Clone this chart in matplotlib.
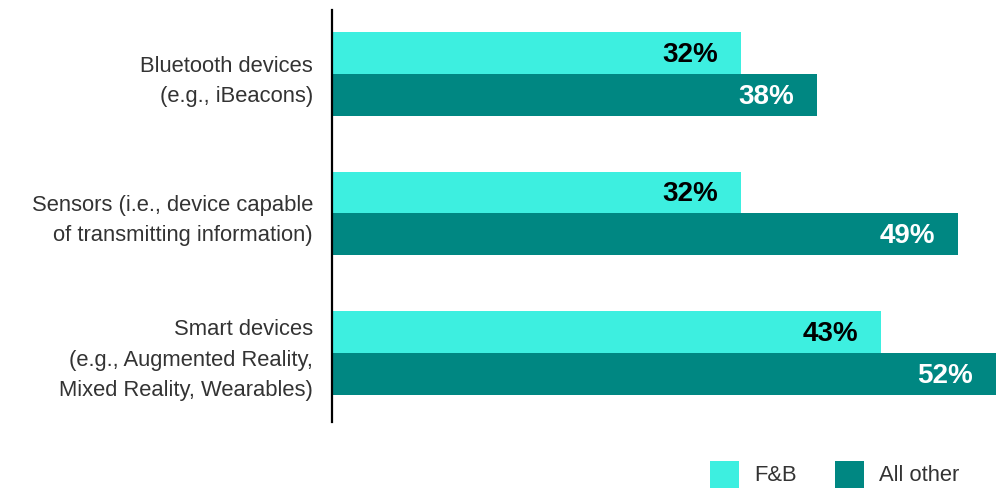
import numpy as np
import matplotlib
matplotlib.use("Agg")
import matplotlib.pyplot as plt
from matplotlib.patches import Patch

plt.rcParams["font.family"] = ["Liberation Sans", "DejaVu Sans"]

categories = [
    "Bluetooth devices\n(e.g., iBeacons)",
    "Sensors (i.e., device capable\nof transmitting information)",
    "Smart devices\n(e.g., Augmented Reality,\nMixed Reality, Wearables)",
]
fb_values = [32, 32, 43]
other_values = [38, 49, 52]
series_names = ["F&B", "All other"]

FB_COLOR = "#3DEFE0"
OTHER_COLOR = "#008782"
TEXT_COLOR = "#333333"

fig = plt.figure(figsize=(9.96, 4.88), dpi=100)
ax = fig.add_axes([332 / 996, 66 / 488, 1 - 332 / 996, 412 / 488])

y = np.arange(len(categories))
h = 0.301

bars_fb = ax.barh(y - h / 2, fb_values, height=h, color=FB_COLOR)
bars_other = ax.barh(y + h / 2, other_values, height=h, color=OTHER_COLOR)

# value labels sit inside the bar ends
for bars, vals, col in [(bars_fb, fb_values, "black"), (bars_other, other_values, "white")]:
    for b, v in zip(bars, vals):
        ax.annotate(f"{v}%", xy=(v, b.get_y() + b.get_height() / 2),
                    xytext=(-23, -2), textcoords="offset pixels",
                    ha="right", va="center", fontsize=20, fontweight="bold",
                    color=col)

ax.set_xlim(0, 52)
ax.set_ylim(2.495, -0.459)
ax.set_yticks(y)
ax.set_yticklabels(categories, fontsize=15.8, color=TEXT_COLOR,
                   linespacing=1.58, ha="right", multialignment="right")
ax.tick_params(axis="y", length=0, pad=13.7)
ax.set_xticks([])

for side in ["top", "right", "bottom"]:
    ax.spines[side].set_visible(False)
ax.spines["left"].set_linewidth(1.6)
ax.spines["left"].set_color("black")

handles = [Patch(facecolor=FB_COLOR), Patch(facecolor=OTHER_COLOR)]
fig.legend(handles, series_names, loc="lower right",
           bbox_to_anchor=(959 / 996, 0), ncol=2, frameon=False,
           fontsize=15.8, labelcolor=TEXT_COLOR,
           handlelength=1.32, handleheight=1.55, handletextpad=0.68,
           columnspacing=1.73, borderpad=0, borderaxespad=0)

fig.savefig("out.png", dpi=100)
